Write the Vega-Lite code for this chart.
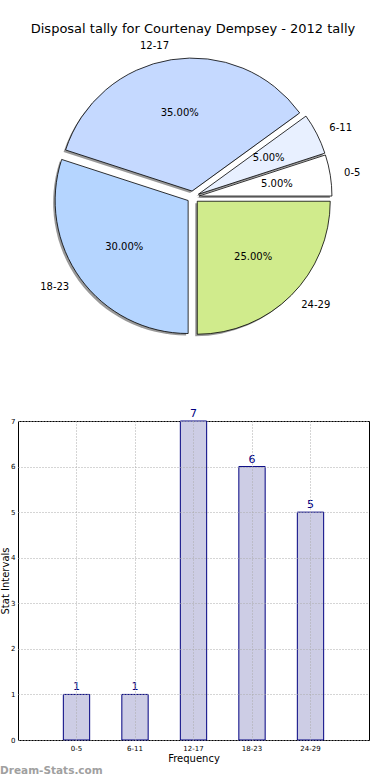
{
  "$schema": "https://vega.github.io/schema/vega-lite/v6.json",
  "padding": {"left": 0, "top": 22, "right": 0, "bottom": 2},
  "autosize": {"type": "pad"},
  "data": {"values": [
    {"range": "0-5", "count": 1},
    {"range": "6-11", "count": 1},
    {"range": "12-17", "count": 7},
    {"range": "18-23", "count": 6},
    {"range": "24-29", "count": 5}
  ]},
  "transform": [
    {"window": [{"op": "row_number", "as": "idx"}]},
    {"joinaggregate": [{"op": "sum", "field": "count", "as": "total"}]}
  ],
  "title": {"text": "Dream-Stats.com", "orient": "bottom", "anchor": "start", "color": "#a0a0a0", "fontSize": 10.5, "fontWeight": "bold", "font": "DejaVu Sans", "offset": 2},
  "bounds": "flush",
  "spacing": 69,
  "vconcat": [
    {
      "width": 350,
      "height": 310,
      "title": {"text": "Disposal tally for Courtenay Dempsey - 2012 tally", "fontSize": 13, "fontWeight": "normal", "font": "DejaVu Sans", "offset": 5, "color": "#000000"},
      "view": {"stroke": null},
      "encoding": {
        "theta": {"field": "count", "type": "quantitative", "stack": true, "scale": {"range": [1.5707963, 7.8539816]}},
        "order": {"field": "idx", "type": "quantitative", "sort": "descending"}
      },
      "layer": [
        {
          "mark": {"type": "arc", "radius": 133, "fill": "#000000", "fillOpacity": 0.4,
            "xOffset": {"expr": "-2 + 6*sin(PI/2 + PI*(datum.count_start + datum.count_end)/datum.total)"},
            "yOffset": {"expr": "2 - 6*cos(PI/2 + PI*(datum.count_start + datum.count_end)/datum.total)"}}
        },
        {
          "mark": {"type": "arc", "radius": 133, "stroke": "#000000", "strokeWidth": 0.8,
            "xOffset": {"expr": "6*sin(PI/2 + PI*(datum.count_start + datum.count_end)/datum.total)"},
            "yOffset": {"expr": "-6*cos(PI/2 + PI*(datum.count_start + datum.count_end)/datum.total)"}},
          "encoding": {
            "color": {"field": "range", "type": "nominal", "legend": null,
              "scale": {"domain": ["0-5", "6-11", "12-17", "18-23", "24-29"], "range": ["#ffffff", "#e8f0ff", "#c5d9ff", "#b5d5ff", "#d0eb8c"]}}
          }
        },
        {
          "mark": {"type": "text", "radius": 79, "fontSize": 10, "color": "#000000",
            "text": {"expr": "format(datum.count/datum.total, '.2%')"},
            "dx": {"expr": "6*sin(PI/2 + PI*(datum.count_start + datum.count_end)/datum.total)"},
            "dy": {"expr": "-6*cos(PI/2 + PI*(datum.count_start + datum.count_end)/datum.total)"}}
        },
        {
          "mark": {"type": "text", "radius": 147, "fontSize": 10, "color": "#000000", "baseline": "middle",
            "align": {"expr": "sin(PI/2 + PI*(datum.count_start + datum.count_end)/datum.total) > 0 ? 'left' : 'right'"},
            "dx": {"expr": "6*sin(PI/2 + PI*(datum.count_start + datum.count_end)/datum.total)"},
            "dy": {"expr": "-6*cos(PI/2 + PI*(datum.count_start + datum.count_end)/datum.total)"}},
          "encoding": {"text": {"field": "range", "type": "nominal"}}
        }
      ]
    },
    {
      "width": 351,
      "height": 319,
      "view": {"stroke": "#000000", "strokeWidth": 1},
      "encoding": {
        "x": {"field": "range", "type": "nominal", "sort": ["0-5", "6-11", "12-17", "18-23", "24-29"],
          "scale": {"paddingInner": 0.55, "paddingOuter": 0.775},
          "axis": {"title": "Frequency", "titleFontSize": 10, "titleFontWeight": "normal", "titlePadding": 2, "labelFontSize": 7, "labelAngle": 0, "labelPadding": 4, "ticks": false, "domain": false, "grid": true, "gridDash": [1, 2], "gridColor": "#aaaaaa", "bandPosition": 0.5, "zindex": 1}},
        "y": {"field": "count", "type": "quantitative", "scale": {"domain": [0, 7], "nice": false},
          "axis": {"title": "Stat Intervals", "titleFontSize": 10, "titleFontWeight": "normal", "titlePadding": 0, "labelFontSize": 7, "labelPadding": 3, "values": [0, 1, 2, 3, 4, 5, 6, 7], "ticks": false, "domain": false, "grid": true, "gridDash": [1, 2], "gridColor": "#aaaaaa", "zindex": 1}}
      },
      "layer": [
        {"mark": {"type": "bar", "fill": "#cdcde5", "stroke": "#000080", "strokeWidth": 1}},
        {"mark": {"type": "text", "baseline": "bottom", "dy": -2, "color": "#000080", "fontSize": 11}, "encoding": {"text": {"field": "count", "type": "quantitative"}}}
      ]
    }
  ],
  "config": {
    "font": "DejaVu Sans",
    "axis": {"labelColor": "#000000", "titleColor": "#000000"}
  }
}
